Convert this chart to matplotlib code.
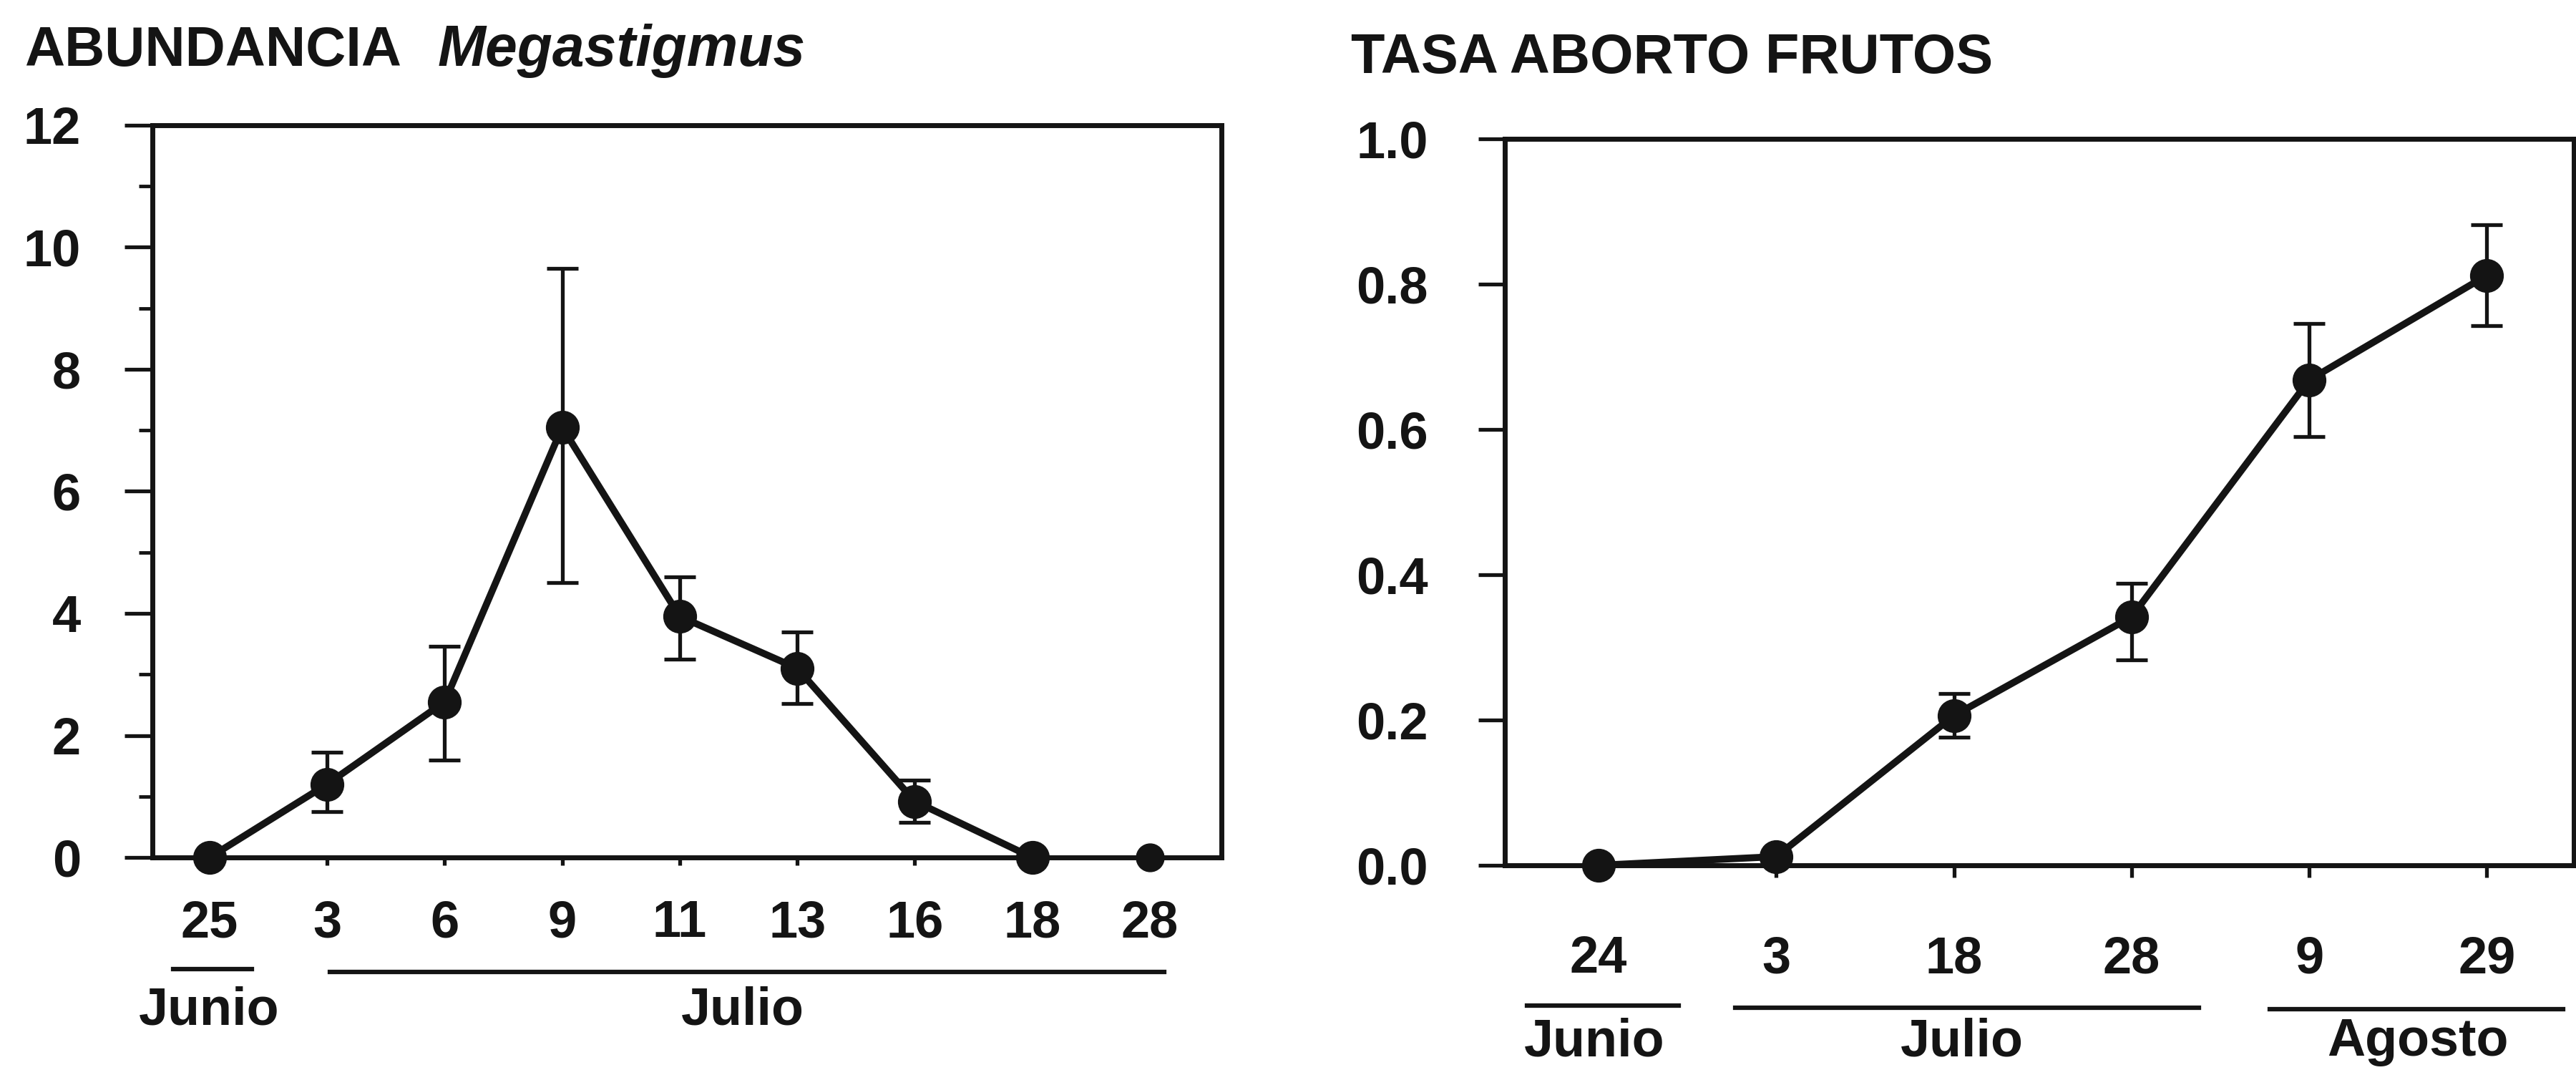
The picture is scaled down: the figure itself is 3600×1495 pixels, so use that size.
import numpy as np
import matplotlib
matplotlib.use("Agg")
import matplotlib.pyplot as plt
from matplotlib.lines import Line2D

plt.rcParams['font.family'] = ['Liberation Sans', 'DejaVu Sans']
plt.rcParams['font.weight'] = 'bold'

# Panel izquierdo: abundancia de Megastigmus
abund_dias = ['25', '3', '6', '9', '11', '13', '16', '18', '28']
abund_media = [0.0, 1.2, 2.55, 7.05, 3.95, 3.1, 0.92, 0.0, 0.0]
abund_inf = [0.0, 0.75, 1.6, 4.5, 3.25, 2.52, 0.58, 0.0, 0.0]
abund_sup = [0.0, 1.72, 3.46, 9.65, 4.6, 3.7, 1.27, 0.0, 0.0]

# Panel derecho: tasa de aborto de frutos
aborto_dias = ['24', '3', '18', '28', '9', '29']
aborto_media = [0.0, 0.012, 0.206, 0.342, 0.668, 0.812]
aborto_inf = [0.0, 0.012, 0.176, 0.283, 0.59, 0.743]
aborto_sup = [0.0, 0.012, 0.236, 0.388, 0.746, 0.882]

W, H = 3600, 1495
INK = '#141414'
FS = 53
FS_TIT = 56

fig = plt.figure(figsize=(W / 100, H / 100), dpi=100)


def px_axes(x0, y0, x1, y1):
    return fig.add_axes([x0 / W, 1 - y1 / H, (x1 - x0) / W, (y1 - y0) / H])


def fig_line(x0, x1, y):
    fig.add_artist(Line2D([x0 / W, x1 / W], [1 - y / H, 1 - y / H],
                          transform=fig.transFigure, color=INK, lw=4.5))


def fig_text(x, y, s, size=FS, **kw):
    fig.text(x / W, 1 - y / H, s, fontsize=size, color=INK, va='baseline', **kw)


def style_axes(ax):
    for sp in ax.spines.values():
        sp.set_linewidth(5)
        sp.set_color(INK)
        sp.set_zorder(1)
    ax.tick_params(colors=INK, labelsize=FS - 1, width=3.8)


# ---- panel izquierdo ----
ax1 = px_axes(213, 175, 1707, 1198)
style_axes(ax1)
x1 = np.arange(len(abund_dias))
m1 = np.array(abund_media)
err1 = [m1 - np.array(abund_inf), np.array(abund_sup) - m1]
ax1.errorbar(x1[1:7], m1[1:7], yerr=[err1[0][1:7], err1[1][1:7]], fmt='none',
             ecolor=INK, elinewidth=3.8, capsize=16, capthick=3.8, zorder=3)
ax1.plot(x1[:8], m1[:8], '-', color=INK, lw=7, zorder=4, clip_on=False)
ax1.plot(x1[:8], m1[:8], 'o', color=INK, ms=33, zorder=5, clip_on=False)
ax1.plot(x1[8:], m1[8:], 'o', color=INK, ms=28, zorder=5, clip_on=False)
ax1.set_xlim(-0.487, 8.61)
ax1.set_ylim(0, 12)
ax1.set_yticks(np.arange(0, 13, 2))
ax1.set_yticks(np.arange(1, 12, 2), minor=True)
ax1.set_xticks(x1)
ax1.set_xticklabels(abund_dias)
ax1.tick_params(axis='y', which='major', direction='out', length=28, pad=44)
ax1.tick_params(axis='y', which='minor', direction='out', length=14, width=3.5, colors=INK)
ax1.tick_params(axis='x', direction='out', length=8, pad=34)

fig_line(242, 352, 1354)
fig_line(461, 1627, 1358)
fig_text(292, 1432, 'Junio', ha='center')
fig_text(1038, 1432, 'Julio', ha='center')
fig_text(34, 92, 'ABUNDANCIA', size=FS_TIT, ha='left')
fig_text(612, 92, 'Megastigmus', size=FS_TIT + 2, ha='left', style='italic')

# ---- panel derecho ----
ax2 = px_axes(2103, 194, 3597, 1209)
style_axes(ax2)
x2 = np.arange(len(aborto_dias))
m2 = np.array(aborto_media)
err2 = [m2 - np.array(aborto_inf), np.array(aborto_sup) - m2]
ax2.errorbar(x2[2:], m2[2:], yerr=[err2[0][2:], err2[1][2:]], fmt='none',
             ecolor=INK, elinewidth=3.8, capsize=16, capthick=3.8, zorder=3)
ax2.plot(x2, m2, '-', color=INK, lw=7, zorder=4, clip_on=False)
ax2.plot(x2, m2, 'o', color=INK, ms=33, zorder=5, clip_on=False)
ax2.set_xlim(-0.528, 5.49)
ax2.set_ylim(0, 1.0)
ax2.set_yticks(np.arange(0, 1.01, 0.2))
ax2.set_yticklabels([f'{v:.1f}' for v in np.arange(0, 1.01, 0.2)])
ax2.set_xticks(x2)
ax2.set_xticklabels(aborto_dias)
ax2.tick_params(axis='y', direction='out', length=27, pad=50)
ax2.tick_params(axis='x', direction='out', length=12, pad=58)

fig_line(2134, 2346, 1405)
fig_line(2425, 3073, 1408)
fig_line(3172, 3582, 1410)
fig_text(2228, 1475, 'Junio', ha='center')
fig_text(2742, 1475, 'Julio', ha='center')
fig_text(3379, 1475, 'Agosto', ha='center')
fig_text(1888, 102, 'TASA ABORTO FRUTOS', size=FS_TIT, ha='left')

fig.savefig('out.png', dpi=100, facecolor='white')
